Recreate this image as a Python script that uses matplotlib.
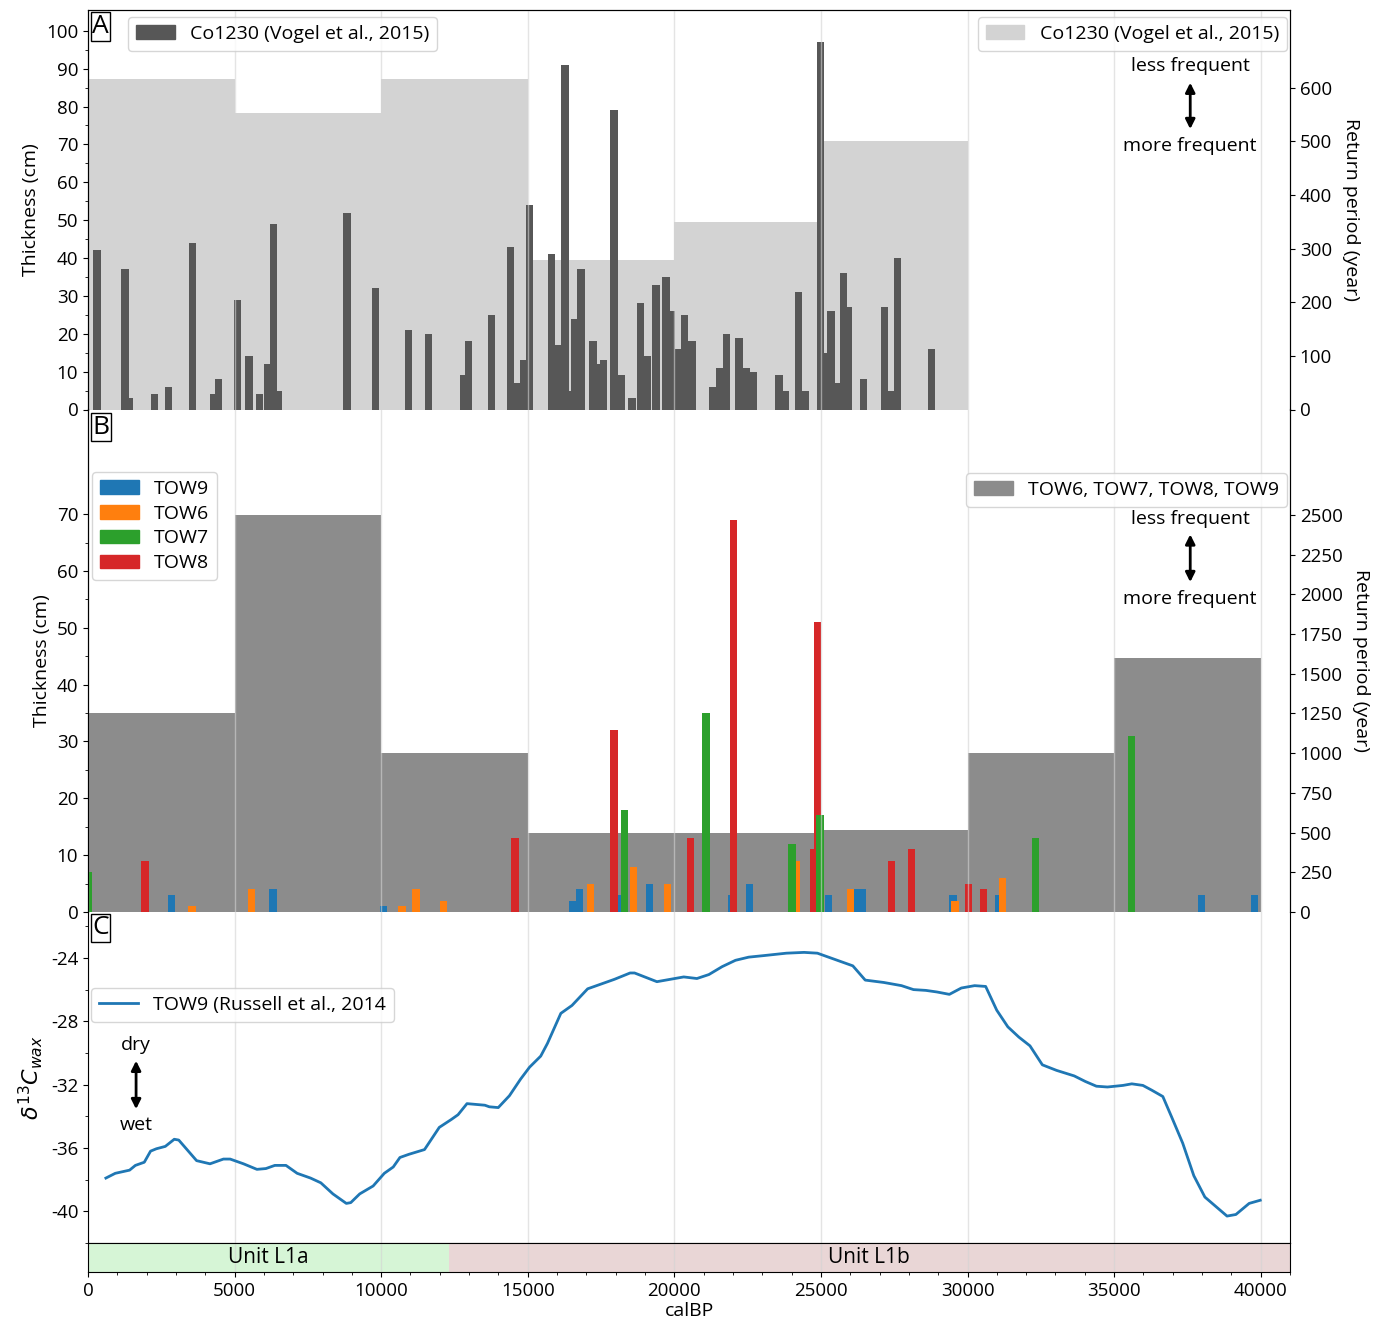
import matplotlib
matplotlib.use('Agg')
import matplotlib.pyplot as plt
from matplotlib.patches import Patch
from matplotlib.lines import Line2D
from matplotlib.ticker import MultipleLocator, FixedLocator

plt.rcParams['font.family'] = ['Open Sans', 'DejaVu Sans']
plt.rcParams['axes.unicode_minus'] = False

# --- panel A: Co1230 event layers (Vogel et al., 2015)
a_age = [307, 1260, 1400, 2270, 2745, 3565, 4290, 4450, 5110, 5490,
         5860, 6140, 6320, 6500, 8830, 9800, 10940, 11620, 12800, 12990,
         13770, 14410, 14660, 14870, 15060, 15800, 16040, 16270, 16400, 16590,
         16820, 17220, 17420, 17590, 17940, 18190, 18560, 18840, 19070, 19370,
         19720, 19910, 20100, 20350, 20600, 21320, 21550, 21790, 22210, 22450,
         22690, 23570, 23800, 24230, 24480, 24980, 25150, 25340, 25580, 25780,
         25950, 26450, 27170, 27360, 27620, 28780]
a_thick = [42, 37, 3, 4, 6, 44, 4, 8, 29, 14,
           4, 12, 49, 5, 52, 32, 21, 20, 9, 18,
           25, 43, 7, 13, 54, 41, 17, 91, 5, 24,
           37, 18, 12, 13, 79, 9, 3, 28, 14, 33,
           35, 26, 16, 25, 18, 6, 11, 20, 19, 11,
           10, 9, 5, 31, 5, 97, 15, 26, 7, 36,
           27, 8, 27, 5, 40, 16]
a_rp_start = [0, 5000, 10000, 15000, 20000, 25000]
a_rp = [617, 552, 617, 278, 349, 500]

# --- panel B: Towuti cores
tow9_age = [2840, 6309, 10070, 16540, 16770, 18100, 19150, 21950, 22560, 25250,
            26250, 26420, 29500, 31060, 37970, 39790]
tow9_thick = [3, 4, 1, 2, 4, 3, 5, 3, 5, 3, 4, 4, 3, 3, 3, 3]
tow6_age = [3547, 5582, 10708, 11185, 12130, 17150, 18600, 19760, 24150, 26020,
            29570, 31190]
tow6_thick = [1, 4, 1, 4, 2, 5, 8, 5, 9, 4, 2, 6]
tow7_age = [0, 18310, 21080, 24010, 24970, 32330, 35600]
tow7_thick = [7, 18, 35, 12, 17, 13, 31]
tow8_age = [1944, 14560, 17940, 20540, 22010, 24760, 24880, 27400, 28090, 30030,
            30550]
tow8_thick = [9, 13, 32, 13, 69, 11, 51, 9, 11, 5, 4]
b_rp_start = [0, 5000, 10000, 15000, 20000, 25000, 30000, 35000]
b_rp = [1250, 2500, 1000, 500, 500, 515, 1000, 1600]

# --- panel C: TOW9 d13C wax (Russell et al., 2014)
c_age = [610, 930, 1418, 1616, 1920, 2134, 2332, 2637, 2942, 3095,
         3704, 4162, 4619, 4848, 5305, 5762, 6067, 6372, 6753, 7134,
         7591, 7942, 8354, 8811, 8963, 9268, 9726, 10107, 10412, 10640,
         10945, 11479, 11982, 12393, 12622, 12927, 13537, 13689, 13994, 14375,
         14756, 15061, 15442, 15671, 16128, 16509, 17043, 17500, 17957, 18491,
         18643, 19405, 19863, 20320, 20770, 21178, 21631, 22085, 22538, 23066,
         23822, 24426, 24879, 25408, 26088, 26511, 27145, 27749, 28157, 28580,
         28958, 29381, 29789, 30242, 30619, 30997, 31375, 31752, 32130, 32553,
         33036, 33640, 34018, 34396, 34773, 35302, 35604, 35982, 36284, 36662,
         36964, 37341, 37719, 38097, 38474, 38852, 39154, 39607, 39985]
c_d13c = [-37.9, -37.6, -37.4, -37.1, -36.9, -36.2, -36.05, -35.9, -35.45, -35.5,
          -36.8, -37.0, -36.7, -36.7, -37.0, -37.35, -37.3, -37.1, -37.1, -37.6,
          -37.9, -38.2, -38.9, -39.5, -39.45, -38.9, -38.4, -37.6, -37.2, -36.6,
          -36.4, -36.1, -34.7, -34.2, -33.9, -33.2, -33.3, -33.4, -33.45, -32.7,
          -31.65, -30.9, -30.2, -29.4, -27.5, -27.0, -25.95, -25.65, -25.35, -24.95,
          -24.95, -25.5, -25.35, -25.2, -25.3, -25.05, -24.55, -24.15, -23.95, -23.85,
          -23.7, -23.65, -23.7, -24.05, -24.5, -25.4, -25.55, -25.75, -26.0, -26.05,
          -26.15, -26.3, -25.9, -25.75, -25.8, -27.3, -28.35, -29.0, -29.55, -30.75,
          -31.1, -31.45, -31.8, -32.1, -32.15, -32.05, -31.95, -32.05, -32.35, -32.75,
          -34.05, -35.7, -37.75, -39.1, -39.7, -40.3, -40.2, -39.5, -39.3]

# --- lithological units
unit_names = ['Unit L1a', 'Unit L1b']
unit_start = [0, 12300]
unit_end = [12300, 41000]
unit_colors = ['#d6f5d6', '#e9d6d6']

BAR_W = 250
FS = 14
TICK_FS = 13.5
GRID = dict(axis='x', color='#d3d3d3', lw=1, alpha=0.6)

fig = plt.figure(figsize=(13.75, 13.24), dpi=100)
gs = fig.add_gridspec(4, 1, height_ratios=[399.5, 502.5, 331, 29], hspace=0,
                      left=88 / 1375, right=1290 / 1375,
                      top=1 - 10 / 1324, bottom=1 - 1272 / 1324)
axA = fig.add_subplot(gs[0])
axB = fig.add_subplot(gs[1], sharex=axA)
axC = fig.add_subplot(gs[2], sharex=axA)
axU = fig.add_subplot(gs[3], sharex=axA)


def panel_label(ax, s):
    ax.text(0.0035, 0.99, s, transform=ax.transAxes, ha='left', va='top',
            fontsize=19, zorder=10,
            bbox=dict(boxstyle='square,pad=0.06', fc='white', ec='black', lw=1))


def freq_arrow(ax, x, y_less, y_top, y_bot, y_more, labels=('less frequent', 'more frequent')):
    ax.text(x, y_less, labels[0], transform=ax.transAxes, ha='center', va='center', fontsize=FS)
    ax.text(x, y_more, labels[1], transform=ax.transAxes, ha='center', va='center', fontsize=FS)
    ax.annotate('', xy=(x, y_top), xytext=(x, y_bot), xycoords='axes fraction',
                arrowprops=dict(arrowstyle='<|-|>', color='black', lw=2, mutation_scale=14))


# ---------------- panel A
axA2 = axA.twinx()
axA2.bar(a_rp_start, a_rp, width=5000, align='edge', color='#d3d3d3', lw=0)
axA2.set_ylim(0, 745)
axA2.set_yticks(range(0, 601, 100))
axA2.set_ylabel('Return period (year)', fontsize=FS, rotation=270, labelpad=20)
axA.set_zorder(axA2.get_zorder() + 1)
axA.patch.set_visible(False)
axA.bar(a_age, a_thick, width=BAR_W, color='#575757', lw=0)
axA.set_ylim(0, 105.5)
axA.set_yticks(range(0, 101, 10))
axA.yaxis.set_minor_locator(FixedLocator(range(5, 100, 10)))
axA.set_ylabel('Thickness (cm)', fontsize=FS)
axA.grid(**GRID)
panel_label(axA, 'A')
legA = axA.legend(handles=[Patch(color='#575757', label='Co1230 (Vogel et al., 2015)')],
                  loc='upper left', bbox_to_anchor=(0.0333, 0.9825), borderaxespad=0, fontsize=FS)
axA.add_artist(legA)
axA.legend(handles=[Patch(color='#d3d3d3', label='Co1230 (Vogel et al., 2015)')],
           loc='upper right', bbox_to_anchor=(0.9975, 0.9825), borderaxespad=0, fontsize=FS)
freq_arrow(axA, 0.917, 0.86, 0.825, 0.695, 0.66)

# ---------------- panel B
axB2 = axB.twinx()
axB2.bar(b_rp_start, b_rp, width=5000, align='edge', color='#8c8c8c', lw=0)
axB2.set_ylim(0, 3163)
axB2.set_yticks(range(0, 2501, 250))
axB2.set_ylabel('Return period (year)', fontsize=FS, rotation=270, labelpad=20)
axB.set_zorder(axB2.get_zorder() + 1)
axB.patch.set_visible(False)
axB.bar(tow9_age, tow9_thick, width=BAR_W, color='tab:blue', lw=0)
axB.bar(tow6_age, tow6_thick, width=BAR_W, color='tab:orange', lw=0)
axB.bar(tow8_age, tow8_thick, width=BAR_W, color='tab:red', lw=0)
axB.bar(tow7_age, tow7_thick, width=BAR_W, color='tab:green', lw=0)
axB.set_ylim(0, 88.4)
axB.set_yticks(range(0, 71, 10))
axB.yaxis.set_minor_locator(FixedLocator(range(5, 70, 10)))
axB.set_ylabel('Thickness (cm)', fontsize=FS)
axB.grid(**GRID)
panel_label(axB, 'B')
legB = axB.legend(handles=[Patch(color='tab:blue', label='TOW9'),
                           Patch(color='tab:orange', label='TOW6'),
                           Patch(color='tab:green', label='TOW7'),
                           Patch(color='tab:red', label='TOW8')],
                  loc='upper left', bbox_to_anchor=(0.0033, 0.8756), borderaxespad=0,
                  fontsize=FS, labelspacing=0.35)
axB.add_artist(legB)
axB.legend(handles=[Patch(color='#8c8c8c', label='TOW6, TOW7, TOW8, TOW9')],
           loc='upper right', bbox_to_anchor=(0.9975, 0.8736), borderaxespad=0, fontsize=FS)
freq_arrow(axB, 0.917, 0.783, 0.757, 0.651, 0.623)

# ---------------- panel C
axC.plot(c_age, c_d13c, color='tab:blue', lw=2)
axC.set_ylim(-42, -21.1)
axC.set_yticks(range(-40, -23, 4))
axC.yaxis.set_minor_locator(MultipleLocator(2))
axC.set_ylabel(r'$\delta^{13}C_{wax}$', fontsize=16)
axC.grid(**GRID)
panel_label(axC, 'C')
axC.legend(handles=[Line2D([], [], color='tab:blue', lw=2, label='TOW9 (Russell et al., 2014')],
           loc='upper left', bbox_to_anchor=(0.0025, 0.7704), borderaxespad=0, fontsize=FS)
freq_arrow(axC, 0.040, 0.598, 0.559, 0.396, 0.356, labels=('dry', 'wet'))

# ---------------- units bar
for name, s, e, c in zip(unit_names, unit_start, unit_end, unit_colors):
    axU.axvspan(s, e, color=c, lw=0)
    axU.text((s + e) / 2, 0.5, name, ha='center', va='center', fontsize=15)
axU.set_ylim(0, 1)
axU.set_yticks([])
axU.grid(**GRID)
axU.set_xlim(0, 41000)
axU.xaxis.set_major_locator(MultipleLocator(5000))
axU.xaxis.set_minor_locator(MultipleLocator(1000))
axU.set_xlabel('calBP', fontsize=FS, labelpad=2)

# panels A-C are stacked without separating lines
for ax in (axA, axA2):
    ax.spines['bottom'].set_visible(False)
for ax in (axB, axB2):
    ax.spines['top'].set_visible(False)
    ax.spines['bottom'].set_visible(False)
axC.spines['top'].set_visible(False)

for ax in (axA, axB, axC):
    ax.tick_params(axis='x', which='both', bottom=False, labelbottom=False)
for ax in (axA, axA2, axB, axB2, axC, axU):
    ax.tick_params(labelsize=TICK_FS)

fig.savefig('out.png', dpi=100)
